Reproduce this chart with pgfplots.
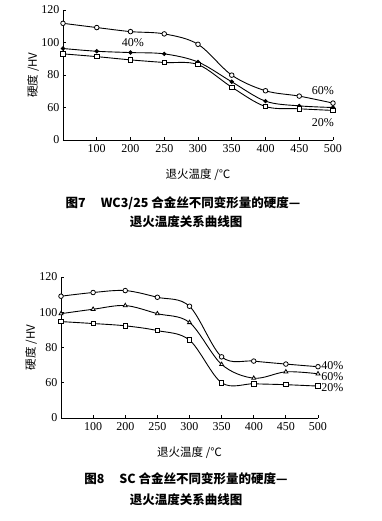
\documentclass[border=0pt]{standalone}
\usepackage{pgfplots}
\pgfplotsset{compat=1.18}
\usepackage{fontspec}
\setmainfont{Liberation Serif}
\newfontfamily\cjk{Noto Sans CJK SC}
\begin{document}
\begin{tikzpicture}[x=1pt,y=1pt]
\useasboundingbox (0,0) rectangle (382,521);
\pgfplotsset{
 myaxis/.style={
  scale only axis, axis lines*=left,
  x axis line style={-}, y axis line style={-},
  xmin=0,xmax=8, ymin=40,ymax=120,
  xtick={1,...,8}, xticklabels={100,200,250,300,350,400,450,500},
  ytick={40,60,80,100,120}, yticklabels={0,60,80,100,120},
  tick align=inside, major tick length=3pt,
  tick style={black, line width=0.8pt},
  axis line style={line width=0.9pt},
  tick label style={font=\fontsize{12}{12}\selectfont},
  xticklabel style={yshift=-1pt},
  label style={font=\cjk\fontsize{11.5}{12}\selectfont},
  xlabel={退火温度 /℃},
  ylabel={硬度 /HV},
  xlabel style={at={(axis description cs:0.5,0)}, anchor=center, yshift=-35pt},
  ylabel style={at={(axis description cs:0,0.5)}, anchor=center, yshift=30pt},
  clip=false,
  every axis plot/.append style={black, line width=0.9pt, smooth, tension=0.55},
 },
 ocirc/.style={mark=*, mark size=2.3pt, mark options={solid, fill=white, line width=0.8pt}},
 fdot/.style={mark=*, mark size=1.7pt, mark options={solid, fill=black}},
 osq/.style={mark=square*, mark size=2.2pt, mark options={solid, fill=white, line width=0.8pt}},
 otri/.style={mark=triangle*, mark size=2.3pt, mark options={solid, fill=white, line width=0.8pt}},
}
% ---- Chart 1 ----
\begin{axis}[myaxis, at={(63pt,381pt)}, anchor=south west, width=270pt, height=130pt]
\addplot[ocirc] coordinates {(0,111.8)(1,109.2)(2,106.7)(3,105.3)(4,98.9)(5,79.9)(6,70.3)(7,67.0)(8,62.7)};
\addplot[fdot] coordinates {(0,96.3)(1,94.6)(2,93.8)(3,93.0)(4,88.0)(5,75.8)(6,63.9)(7,61.0)(8,60.0)};
\addplot[osq] coordinates {(0,93.0)(1,91.3)(2,89.3)(3,87.7)(4,86.4)(5,72.5)(6,60.6)(7,59.2)(8,58.2)};
\node[font=\fontsize{12}{12}\selectfont] at (axis cs:2.07,99.7) {40\%};
\node[font=\fontsize{12}{12}\selectfont] at (axis cs:7.7,70.2) {60\%};
\node[font=\fontsize{12}{12}\selectfont] at (axis cs:7.7,50.5) {20\%};
\end{axis}
% ---- Chart 2 ----
\begin{axis}[myaxis, at={(61pt,103pt)}, anchor=south west, width=257pt, height=141pt, tension=0.6]
\addplot[ocirc] coordinates {(0,109.1)(1,111.2)(2,112.3)(3,108.5)(4,103.4)(5,74.7)(6,72.3)(7,70.6)(8,69.1)};
\addplot[otri] coordinates {(0,99.2)(1,101.7)(2,103.8)(3,99.2)(4,94.2)(5,70.4)(6,62.6)(7,66.2)(8,65.1)};
\addplot[osq] coordinates {(0,94.7)(1,93.6)(2,92.3)(3,89.6)(4,84.2)(5,60.0)(6,59.4)(7,58.9)(8,58.1)};
\node[anchor=west, inner sep=0pt, font=\fontsize{12}{12}\selectfont] at (axis cs:8.1,69.5) {40\%};
\node[anchor=west, inner sep=0pt, font=\fontsize{12}{12}\selectfont] at (axis cs:8.1,63.3) {60\%};
\node[anchor=west, inner sep=0pt, font=\fontsize{12}{12}\selectfont] at (axis cs:8.1,57.0) {20\%};
\end{axis}
% ---- Captions ----
\node[font=\cjk\bfseries\fontsize{12.5}{14}\selectfont] at (183pt,318pt) {图7\hspace{1.2em}WC3/25 合金丝不同变形量的硬度—};
\node[font=\cjk\bfseries\fontsize{12.5}{14}\selectfont] at (186pt,299pt) {退火温度关系曲线图};
\node[font=\cjk\bfseries\fontsize{12.5}{14}\selectfont] at (186pt,42pt) {图8\hspace{1.2em}SC 合金丝不同变形量的硬度—};
\node[font=\cjk\bfseries\fontsize{12.5}{14}\selectfont] at (186pt,21pt) {退火温度关系曲线图};
\end{tikzpicture}
\end{document}
